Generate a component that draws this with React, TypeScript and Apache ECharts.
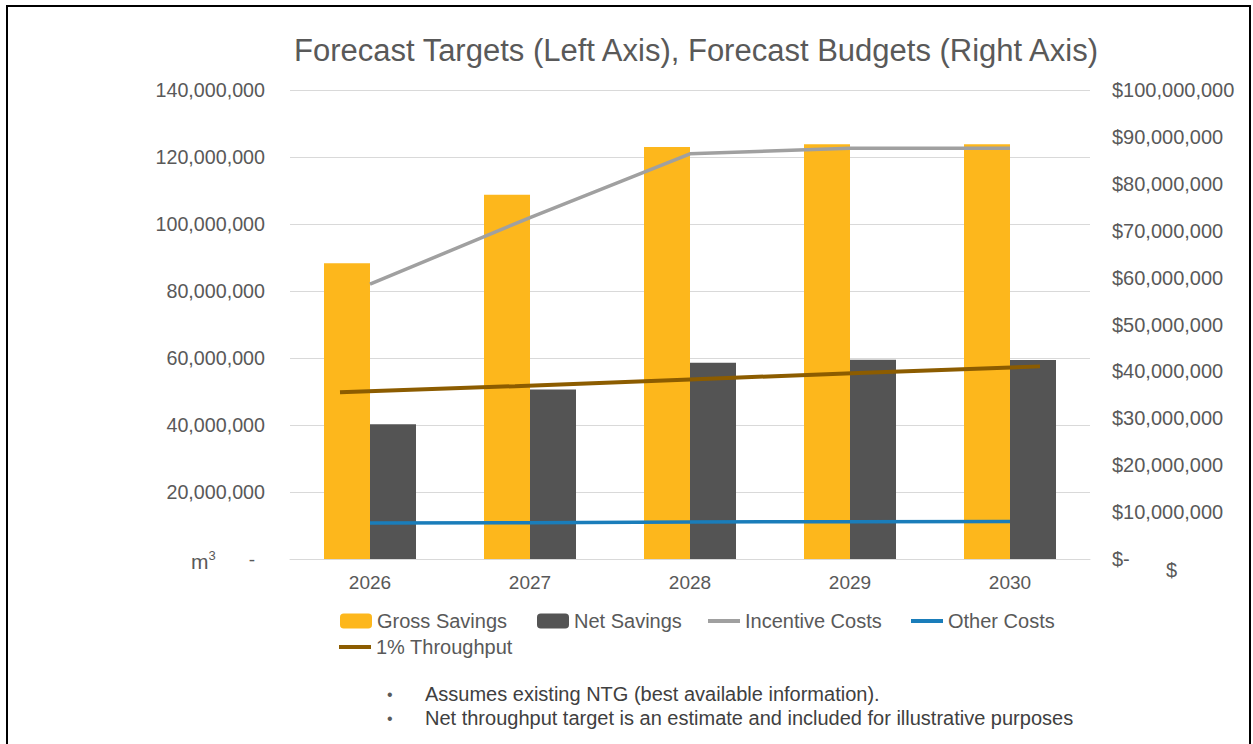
import React, { useEffect, useRef } from "react";
import * as echarts from "echarts";

const years = ["2026", "2027", "2028", "2029", "2030"];
const grossSavings = [88.3e6, 108.7e6, 123.0e6, 123.8e6, 123.8e6];
const netSavings = [40.2e6, 50.6e6, 58.6e6, 59.5e6, 59.4e6];
const incentiveCosts = [58.6e6, 72.8e6, 86.4e6, 87.6e6, 87.6e6];
const otherCosts = [7.7e6, 7.75e6, 7.9e6, 7.95e6, 8.0e6];
const throughput = [49.8e6, 51.6e6, 53.6e6, 55.6e6, 57.5e6];

const titleText = "Forecast Targets (Left Axis), Forecast Budgets (Right Axis)";
const notes = [
  "Assumes existing NTG (best available information).",
  "Net throughput target is an estimate and included for illustrative purposes",
];

const FONT = "'Liberation Sans', Arial, sans-serif";
const TXT = "#595959";

export default function App() {
  const ref = useRef<HTMLDivElement>(null);
  useEffect(() => {
    if (!ref.current) return;
    const chart = echarts.init(ref.current, null, { renderer: "svg" });
    const legendBase = {
      itemWidth: 32,
      itemHeight: 15,
      itemGap: 5,
      textStyle: { color: TXT, fontSize: 20, fontFamily: FONT },
      selectedMode: false,
      padding: 0,
    };
    const lineLegend = { ...legendBase, icon: "rect", itemHeight: 4 };
    chart.setOption({
      animation: false,
      backgroundColor: "#ffffff",
      textStyle: { fontFamily: FONT },
      title: {
        text: titleText,
        left: 691,
        textAlign: "center",
        top: 30,
        textStyle: { color: TXT, fontSize: 31, fontWeight: "normal", fontFamily: FONT },
      },
      legend: [
        { ...legendBase, data: ["Gross Savings"], left: 340, top: 611 },
        { ...legendBase, data: ["Net Savings"], left: 537, top: 611 },
        { ...lineLegend, data: ["Incentive Costs"], left: 708, top: 611 },
        { ...lineLegend, data: ["Other Costs"], left: 911, top: 611 },
        { ...lineLegend, data: ["1% Throughput"], left: 339, top: 637 },
      ],
      grid: [
        { left: 290, top: 90, width: 800, height: 469 },
        { left: 340, top: 90, width: 700, height: 469 },
      ],
      xAxis: [
        {
          type: "category",
          data: years,
          gridIndex: 0,
          axisLine: { lineStyle: { color: "#D9D9D9" } },
          axisTick: { show: false },
          axisLabel: { color: TXT, fontSize: 19, fontFamily: FONT, margin: 14 },
        },
        {
          type: "category",
          data: years,
          gridIndex: 1,
          boundaryGap: false,
          show: false,
        },
      ],
      yAxis: [
        {
          type: "value",
          gridIndex: 0,
          min: 0,
          max: 140e6,
          interval: 20e6,
          axisLine: { show: false },
          axisTick: { show: false },
          splitLine: { lineStyle: { color: "#D9D9D9" } },
          axisLabel: {
            color: TXT,
            fontSize: 19.7,
            fontFamily: FONT,
            margin: 25,
            formatter: (v: number) => (v === 0 ? "{z|-}" : v.toLocaleString("en-US")),
            rich: { z: { color: TXT, fontSize: 19, fontFamily: FONT, padding: [0, 10, 0, 0] } },
          },
        },
        {
          type: "value",
          gridIndex: 0,
          position: "right",
          min: 0,
          max: 100e6,
          interval: 10e6,
          axisLine: { show: false },
          axisTick: { show: false },
          splitLine: { show: false },
          axisLabel: {
            color: TXT,
            fontSize: 20,
            fontFamily: FONT,
            margin: 22,
            formatter: (v: number) => (v === 0 ? "$-" : "$" + v.toLocaleString("en-US")),
          },
        },
        {
          type: "value",
          gridIndex: 1,
          min: 0,
          max: 140e6,
          show: false,
        },
      ],
      series: [
        {
          name: "Gross Savings",
          type: "bar",
          data: grossSavings,
          barWidth: 46,
          barGap: "0%",
          itemStyle: { color: "#FDB71C" },
          z: 2,
        },
        {
          name: "Net Savings",
          type: "bar",
          data: netSavings,
          barWidth: 46,
          barGap: "0%",
          itemStyle: { color: "#545454" },
          z: 2,
        },
        {
          name: "Incentive Costs",
          type: "line",
          yAxisIndex: 1,
          data: incentiveCosts,
          symbol: "none",
          lineStyle: { color: "#A0A0A0", width: 3.5 },
          itemStyle: { color: "#A0A0A0" },
          z: 5,
        },
        {
          name: "Other Costs",
          type: "line",
          yAxisIndex: 1,
          data: otherCosts,
          symbol: "none",
          lineStyle: { color: "#1A7DBA", width: 3.5 },
          itemStyle: { color: "#1A7DBA" },
          z: 5,
        },
        {
          name: "1% Throughput",
          type: "line",
          xAxisIndex: 1,
          yAxisIndex: 2,
          data: throughput,
          symbol: "none",
          lineStyle: { color: "#8C5C00", width: 4 },
          itemStyle: { color: "#8C5C00" },
          z: 5,
        },
      ],
      graphic: [
        {
          type: "rect",
          shape: { x: 7, y: 6, width: 1243, height: 760 },
          style: { fill: "none", stroke: "#000000", lineWidth: 2 },
          silent: true,
        },
        {
          type: "text",
          left: 191,
          top: 549,
          style: {
            text: "{m|m}{s|3}",
            rich: {
              m: { fill: TXT, fontSize: 21, fontFamily: FONT, verticalAlign: "bottom" },
              s: { fill: TXT, fontSize: 13, fontFamily: FONT, verticalAlign: "top", padding: [0, 0, 10, 0] },
            },
          },
        },
        {
          type: "text",
          left: 1166,
          top: 560,
          style: { text: "$", fill: TXT, fontSize: 20, fontFamily: FONT },
        },
        ...notes.flatMap((n, i) => [
          {
            type: "text",
            left: 387,
            top: 686 + i * 24,
            style: { text: "•", fill: TXT, fontSize: 16, fontFamily: FONT },
          },
          {
            type: "text",
            left: 425,
            top: 684 + i * 24,
            style: { text: n, fill: "#404040", fontSize: 20, fontFamily: FONT },
          },
        ]),
      ],
    });
    return () => chart.dispose();
  }, []);
  return (
    <div
      ref={ref}
      style={{ position: "absolute", left: 0, top: 0, width: 1253, height: 744 }}
    />
  );
}
